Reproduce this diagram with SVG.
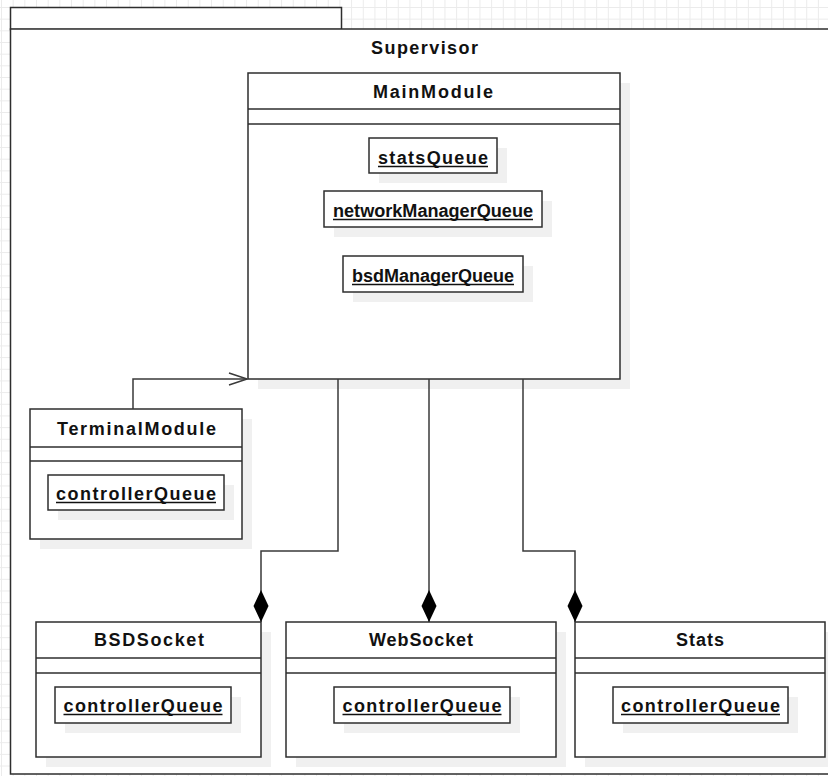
<svg xmlns="http://www.w3.org/2000/svg" width="828" height="776" viewBox="0 0 828 776">
  <style>
    .box { fill: #ffffff; stroke: #2e2e2e; stroke-width: 1.5; }
    .shadow { fill: #f0f0f0; stroke: none; }
    .sep { stroke: #2e2e2e; stroke-width: 1.5; }
    .title { font-family: "Liberation Sans", Arial, sans-serif; font-weight: bold; font-size: 18px; fill: #111111; text-anchor: middle; }
    .uline { stroke: #111111; stroke-width: 1.5; }
    .link { fill: none; stroke: #3a3a3a; stroke-width: 1.5; }
  </style>
  <defs>
    <pattern id="grid" patternUnits="userSpaceOnUse" x="1" y="7" width="11.67" height="11.67">
      <path d="M0,0.5 H11.67 M0.5,0 V11.67" stroke="#ebebeb" stroke-width="1" fill="none"/>
    </pattern>
    <marker id="diamond" viewBox="0 0 32 16" refX="32" refY="8" markerWidth="32" markerHeight="16" markerUnits="userSpaceOnUse" orient="auto">
      <path d="M0,8 L16,0.5 L32,8 L16,15.5 Z" fill="#000000"/>
    </marker>
    <marker id="open" viewBox="0 0 20 14" refX="19" refY="7" markerWidth="20" markerHeight="14" markerUnits="userSpaceOnUse" orient="auto">
      <path d="M1,1 L19,7 L1,13" fill="none" stroke="#3a3a3a" stroke-width="1.5"/>
    </marker>
  </defs>

  <!-- canvas grid -->
  <rect x="0" y="0" width="828" height="776" fill="#ffffff"/>
  <rect x="0" y="0" width="828" height="776" fill="url(#grid)"/>

  <!-- package -->
  <g id="supervisor">
    <rect class="box" x="10.5" y="7.5" width="331" height="22"/>
    <rect class="box" x="10.5" y="29" width="830" height="745"/>
    <text class="title" x="424.5" y="54" textLength="107" lengthAdjust="spacing">Supervisor</text>
  </g>

  <!-- MainModule -->
  <g id="mainModule">
    <rect class="shadow" x="258" y="83" width="372" height="306"/>
    <rect class="box" x="248" y="73" width="372" height="306"/>
    <line class="sep" x1="248" y1="109" x2="620" y2="109"/>
    <line class="sep" x1="248" y1="124" x2="620" y2="124"/>
    <text class="title" x="433" y="97.5" textLength="120" lengthAdjust="spacing">MainModule</text>

    <g id="statsQueue">
      <rect class="shadow" x="379" y="148" width="128" height="35"/>
      <rect class="box" x="369" y="138" width="128" height="35"/>
      <text class="title" x="433" y="163.5" textLength="110" lengthAdjust="spacing">statsQueue</text>
      <line class="uline" x1="378" y1="166.5" x2="488" y2="166.5"/>
    </g>
    <g id="networkManagerQueue">
      <rect class="shadow" x="334" y="201" width="218" height="36"/>
      <rect class="box" x="324" y="191" width="218" height="36"/>
      <text class="title" x="433" y="216.5" textLength="200" lengthAdjust="spacingAndGlyphs">networkManagerQueue</text>
      <line class="uline" x1="333" y1="219.5" x2="533" y2="219.5"/>
    </g>
    <g id="bsdManagerQueue">
      <rect class="shadow" x="353" y="266" width="180" height="36"/>
      <rect class="box" x="343" y="256" width="180" height="36"/>
      <text class="title" x="433" y="281.5" textLength="162" lengthAdjust="spacingAndGlyphs">bsdManagerQueue</text>
      <line class="uline" x1="352" y1="284.5" x2="514" y2="284.5"/>
    </g>
  </g>

  <!-- TerminalModule -->
  <g id="terminalModule">
    <rect class="shadow" x="40" y="419" width="212" height="130"/>
    <rect class="box" x="30" y="409" width="212" height="130"/>
    <line class="sep" x1="30" y1="447" x2="242" y2="447"/>
    <line class="sep" x1="30" y1="461" x2="242" y2="461"/>
    <text class="title" x="136.5" y="435" textLength="159" lengthAdjust="spacing">TerminalModule</text>
    <rect class="shadow" x="58" y="485" width="176" height="35"/>
    <rect class="box" x="48" y="475" width="176" height="35"/>
    <text class="title" x="136" y="499.5" textLength="160" lengthAdjust="spacing">controllerQueue</text>
    <line class="uline" x1="56" y1="502.5" x2="216" y2="502.5"/>
  </g>

  <!-- BSDSocket -->
  <g id="bsdSocket">
    <rect class="shadow" x="46" y="632" width="225" height="135"/>
    <rect class="box" x="36" y="622" width="225" height="135"/>
    <line class="sep" x1="36" y1="658" x2="261" y2="658"/>
    <line class="sep" x1="36" y1="673" x2="261" y2="673"/>
    <text class="title" x="149" y="646" textLength="110" lengthAdjust="spacing">BSDSocket</text>
    <rect class="shadow" x="65" y="697" width="176" height="36"/>
    <rect class="box" x="55" y="687" width="176" height="36"/>
    <text class="title" x="143" y="711.5" textLength="159" lengthAdjust="spacing">controllerQueue</text>
    <line class="uline" x1="63.5" y1="714.5" x2="222.5" y2="714.5"/>
  </g>

  <!-- WebSocket -->
  <g id="webSocket">
    <rect class="shadow" x="296" y="632" width="270" height="135"/>
    <rect class="box" x="286" y="622" width="270" height="135"/>
    <line class="sep" x1="286" y1="658" x2="556" y2="658"/>
    <line class="sep" x1="286" y1="673" x2="556" y2="673"/>
    <text class="title" x="421" y="646" textLength="104" lengthAdjust="spacing">WebSocket</text>
    <rect class="shadow" x="344" y="697" width="176" height="36"/>
    <rect class="box" x="334" y="687" width="176" height="36"/>
    <text class="title" x="422" y="711.5" textLength="159" lengthAdjust="spacing">controllerQueue</text>
    <line class="uline" x1="342.5" y1="714.5" x2="501.5" y2="714.5"/>
  </g>

  <!-- Stats -->
  <g id="stats">
    <rect class="shadow" x="585" y="632" width="250" height="135"/>
    <rect class="box" x="575" y="622" width="250" height="135"/>
    <line class="sep" x1="575" y1="658" x2="825" y2="658"/>
    <line class="sep" x1="575" y1="673" x2="825" y2="673"/>
    <text class="title" x="700" y="646" textLength="48" lengthAdjust="spacing">Stats</text>
    <rect class="shadow" x="623" y="697" width="175" height="36"/>
    <rect class="box" x="613" y="687" width="175" height="36"/>
    <text class="title" x="700.5" y="711.5" textLength="159" lengthAdjust="spacing">controllerQueue</text>
    <line class="uline" x1="621" y1="714.5" x2="780" y2="714.5"/>
  </g>

  <!-- connectors -->
  <g id="connectors">
    <polyline class="link" points="133,409 133,379 247,379" marker-end="url(#open)"/>
    <polyline class="link" points="338,379 338,551 261,551 261,622" marker-end="url(#diamond)"/>
    <polyline class="link" points="429,379 429,622" marker-end="url(#diamond)"/>
    <polyline class="link" points="523,379 523,551 575,551 575,622" marker-end="url(#diamond)"/>
  </g>
</svg>
